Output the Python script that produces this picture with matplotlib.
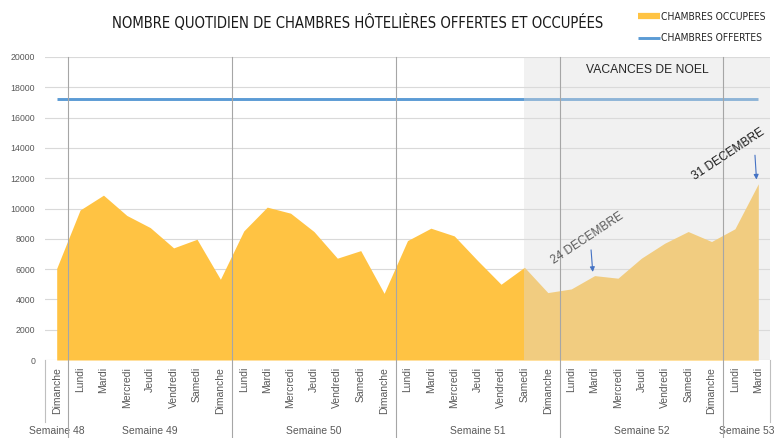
import matplotlib
matplotlib.use('Agg')
import matplotlib.pyplot as plt
import matplotlib.transforms as mtransforms
from matplotlib import font_manager
from matplotlib.lines import Line2D

# data
days = ['Dimanche',
        'Lundi', 'Mardi', 'Mercredi', 'Jeudi', 'Vendredi', 'Samedi', 'Dimanche',
        'Lundi', 'Mardi', 'Mercredi', 'Jeudi', 'Vendredi', 'Samedi', 'Dimanche',
        'Lundi', 'Mardi', 'Mercredi', 'Jeudi', 'Vendredi', 'Samedi', 'Dimanche',
        'Lundi', 'Mardi', 'Mercredi', 'Jeudi', 'Vendredi', 'Samedi', 'Dimanche',
        'Lundi', 'Mardi']
weeks = ['Semaine 48', 'Semaine 49', 'Semaine 50', 'Semaine 51',
         'Semaine 52', 'Semaine 53']
week_sizes = [1, 7, 7, 7, 7, 2]
occupees = [6050, 9900, 10880, 9540, 8740, 7400, 7970, 5330,
            8520, 10090, 9690, 8480, 6720, 7220, 4400,
            7880, 8700, 8190, 6560, 5000, 6120, 4450,
            4690, 5570, 5400, 6720, 7710, 8480, 7820,
            8660, 11630]
offertes = [17200] * 31
holiday_start = 20      # Samedi semaine 51
day_24 = 23
day_31 = 30

font = 'Liberation Sans'
grey_txt = '#595959'

# narrow face for title / legend if one is installed
cond = [f for f in font_manager.fontManager.ttflist
        if f.name == 'DejaVu Sans' and 'condensed' in str(f.stretch)]
if cond:
    narrow = dict(family='DejaVu Sans', stretch='condensed')
else:
    narrow = dict(family=font)

fig = plt.figure(figsize=(7.77, 4.38), dpi=100)
ax = fig.add_axes([45 / 777, 1 - 360 / 438, 725 / 777, 303 / 438])

x = list(range(len(days)))
ax.fill_between(x, 0, occupees, color='#FFC343', lw=0, zorder=2)
ax.plot(x, offertes, color='#5B9BD5', lw=2.1, zorder=3, solid_capstyle='butt')

# holiday shading drawn over the series
ax.axvspan(holiday_start, len(days) - 0.5, color=(220 / 255, 220 / 255, 220 / 255),
           alpha=0.4, lw=0, zorder=4)

ax.set_xlim(-0.5, len(days) - 0.5)
ax.set_ylim(0, 20000)
ax.set_yticks(range(0, 20001, 2000))
ax.grid(axis='y', color='#D9D9D9', lw=0.8, zorder=1)
ax.set_axisbelow(True)
for s in ax.spines.values():
    s.set_visible(False)

ax.set_xticks(x)
ax.set_xticklabels(days, rotation=90, fontsize=7.5, color=grey_txt, family=font)
ax.tick_params(axis='x', length=0, pad=5)
ax.tick_params(axis='y', length=0, pad=7, labelsize=6.3, labelcolor=grey_txt)
for lab in ax.get_yticklabels():
    lab.set_family(font)

# week groups and separators
trans = mtransforms.blended_transform_factory(ax.transData, ax.transAxes)
start = 0
for i, (w, n) in enumerate(zip(weeks, week_sizes)):
    centre = start + (n - 1) / 2
    ax.text(centre, -0.235, w, transform=trans, ha='center', va='center',
            fontsize=7.5, color=grey_txt, family=font)
    if i > 0:
        ax.plot([start - 0.5, start - 0.5], [1, -0.26], transform=trans,
                color='#A6A6A6', lw=0.8, clip_on=False, zorder=5)
    start += n
for edge in [-0.5, len(days) - 0.5]:
    ax.plot([edge, edge], [0, -0.205], transform=trans, color='#BFBFBF',
            lw=0.8, clip_on=False, zorder=5)

# annotations
ax.text(25.24, 19160, 'VACANCES DE NOEL', ha='center', va='center',
        fontsize=8.7, color='#262626', family=font, zorder=6)
ax.annotate('', xy=(day_24 - 0.07, occupees[day_24] + 60),
            xytext=(day_24 - 0.16, 7450),
            arrowprops=dict(arrowstyle='-|>', color='#4472C4', lw=0.8,
                            mutation_scale=7), zorder=6)
ax.text(22.67, 8060, '24 DECEMBRE', rotation=33.5, ha='center', va='center',
        fontsize=8.6, color=grey_txt, family=font, zorder=6)
ax.annotate('', xy=(day_31 - 0.07, occupees[day_31] + 100),
            xytext=(day_31 - 0.15, 13700),
            arrowprops=dict(arrowstyle='-|>', color='#4472C4', lw=0.8,
                            mutation_scale=7), zorder=6)
ax.text(28.74, 13550, '31 DECEMBRE', rotation=33.5, ha='center', va='center',
        fontsize=8.6, color='#1A1A1A', family=font, zorder=6)

# title and legend
title = fig.text(358 / 777, 1 - 22 / 438,
                 'NOMBRE QUOTIDIEN DE CHAMBRES HÔTELIÈRES OFFERTES ET OCCUPÉES',
                 ha='center', va='center', fontsize=11.2, color='#1A1A1A', **narrow)

handles = [Line2D([], [], color='#FFC343', lw=4.5, solid_capstyle='butt'),
           Line2D([], [], color='#5B9BD5', lw=2.1, solid_capstyle='butt')]
leg_size = 7.8
leg = fig.legend(handles, ['CHAMBRES OCCUPEES', 'CHAMBRES OFFERTES'],
                 loc='upper left', bbox_to_anchor=(638 / 777, 1 - 12 / 438),
                 frameon=False, borderpad=0, borderaxespad=0,
                 handlelength=2.0, handletextpad=0.1, labelspacing=1.05,
                 prop=dict(size=leg_size, **narrow))
for t in leg.get_texts():
    t.set_color('#262626')

# shrink title / legend text to the widths seen in the chart
fig.canvas.draw()
w = title.get_window_extent().width
title.set_fontsize(11.2 * min(1.0, 494 / w))
w = leg.get_texts()[0].get_window_extent().width
scale = min(1.0, 105 / w)
for t in leg.get_texts():
    t.set_fontsize(leg_size * scale)
leg.handlelength = 2.0 / scale
leg.handletextpad = 0.1 / scale
leg.labelspacing = 1.45 / scale

fig.savefig('out.png', dpi=100)
